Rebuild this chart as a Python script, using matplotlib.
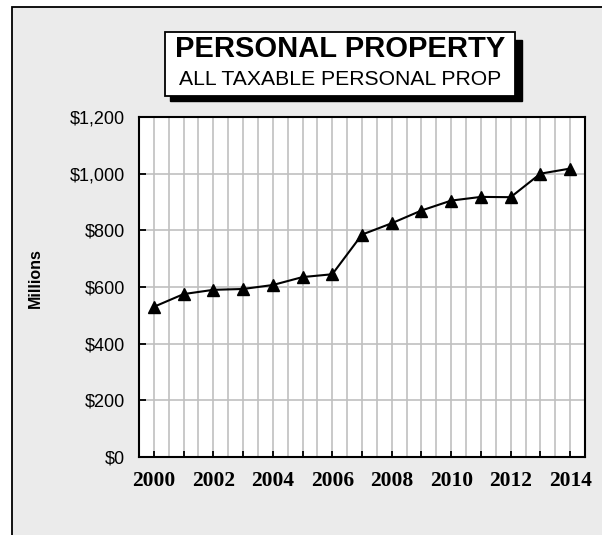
import matplotlib.pyplot as plt
from matplotlib.patches import Rectangle
from matplotlib.ticker import FuncFormatter, MultipleLocator

years = [2000, 2001, 2002, 2003, 2004, 2005, 2006, 2007, 2008, 2009, 2010, 2011, 2012, 2013, 2014]
values = [530, 575, 590, 593, 607, 635, 645, 785, 825, 870, 905, 918, 917, 1000, 1018]
year_ticks = [2000, 2002, 2004, 2006, 2008, 2010, 2012, 2014]
value_ticks = [0, 200, 400, 600, 800, 1000, 1200]

title = "PERSONAL PROPERTY"
subtitle = "ALL TAXABLE PERSONAL PROP"

W, H = 602, 535
fig = plt.figure(figsize=(W / 100, H / 100), dpi=100)
fig.patch.set_facecolor('white')


def px_rect(x0, y0, x1, y1, **kw):
    # rectangle given in pixel coords (top-left origin)
    return Rectangle((x0 / W, (H - y1) / H), (x1 - x0) / W, (y1 - y0) / H,
                     transform=fig.transFigure, **kw)


# grey chart area with black frame (cut off on right/bottom)
fig.patches.append(px_rect(12, 7, 700, 600, facecolor='#ebebeb',
                           edgecolor='black', lw=1.3, zorder=-5))

ax = fig.add_axes([139 / W, (H - 457) / H, (585 - 139) / W, (457 - 117) / H])
ax.set_facecolor('white')

ax.plot(years, values, color='black', lw=1.5, marker='^', ms=9,
        markerfacecolor='black', markeredgecolor='black', zorder=3)

ax.set_xlim(1999.5, 2014.5)
ax.set_ylim(0, 1200)

ax.set_xticks(year_ticks)
ax.xaxis.set_minor_locator(MultipleLocator(1))
ax.set_yticks(value_ticks)
ax.yaxis.set_major_formatter(FuncFormatter(lambda v, p: f"${v:,.0f}"))

# grey grid every half year and every 200
for x in [1999.5 + 0.5 * i for i in range(1, 30)]:
    ax.axvline(x, color='#c0c0c0', lw=1.2, zorder=1)
for y in value_ticks[1:-1]:
    ax.axhline(y, color='#c0c0c0', lw=1.2, zorder=1)

for s in ax.spines.values():
    s.set_linewidth(1.5)
    s.set_color('black')
    s.set_zorder(4)

ax.tick_params(axis='x', which='both', direction='in', length=4, width=1.3,
               pad=10, top=False)
ax.tick_params(axis='y', direction='in', length=5, width=1.3, pad=10)
for lab in ax.get_xticklabels():
    lab.set_family('Liberation Serif')
    lab.set_weight('bold')
    lab.set_fontsize(15.5)
for lab in ax.get_yticklabels():
    lab.set_family('Liberation Sans')
    lab.set_fontsize(13)

fig.text(35 / W, (H - 278) / H, "Millions", rotation=90, ha='center', va='center',
         family='Liberation Sans', weight='bold', fontsize=11.5)

# title box with shadow
fig.patches.append(px_rect(170, 40, 522, 101, facecolor='black',
                           edgecolor='black', zorder=5))
fig.patches.append(px_rect(165, 32, 515, 96, facecolor='white',
                           edgecolor='black', lw=1.3, zorder=6))
fig.text(340 / W, (H - 57) / H, title, ha='center', va='baseline',
         family='Liberation Sans', weight='bold', fontsize=21, zorder=7)
fig.text(340 / W, (H - 85) / H, subtitle, ha='center', va='baseline',
         family='Liberation Sans', fontsize=15.2, zorder=7)

fig.savefig('out.png', dpi=100)
